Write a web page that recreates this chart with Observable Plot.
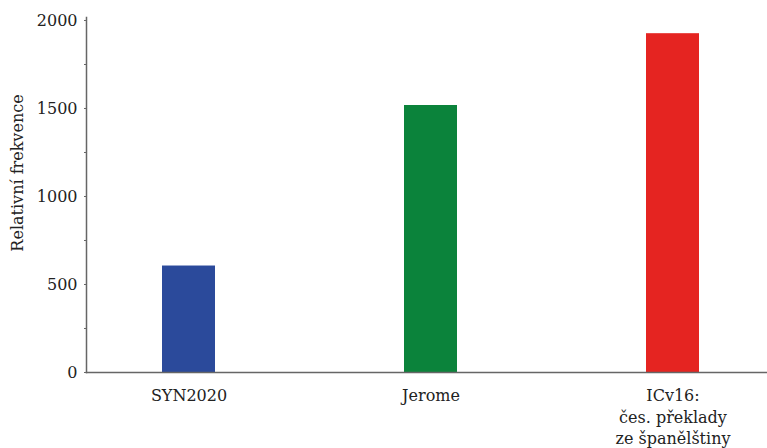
<!DOCTYPE html>
<html>
<head>
<meta charset="utf-8">
<script src="https://cdn.jsdelivr.net/npm/d3@7"></script>
<script src="https://cdn.jsdelivr.net/npm/@observablehq/plot@0.6"></script>
<style>
  html, body { margin: 0; padding: 0; background: #fff; }
</style>
</head>
<body>
<div id="chart"></div>
<script>
const categories = ["SYN2020", "Jerome", "ICv16"];
const tickLabels = ["SYN2020", "Jerome", "ICv16:\nčes. překlady\nze španělštiny"];
const values = [605, 1517, 1925];
const colors = ["#2b4a9b", "#0b833b", "#e52421"];
const yTicks = [0, 500, 1000, 1500, 2000];
const yMinorTicks = [250, 750, 1250, 1750];
const yLabel = "Relativní frekvence";

const data = categories.map((c, i) => ({cat: c, value: values[i], color: colors[i]}));
const labelOf = new Map(categories.map((c, i) => [c, tickLabels[i]]));

const chart = Plot.plot({
  width: 767,
  height: 448,
  marginLeft: 86,
  marginRight: 0,
  marginTop: 17,
  marginBottom: 76,
  style: {fontFamily: "'DejaVu Serif', serif", fontSize: "16px", color: "#222", background: "#fff"},
  x: {domain: categories, range: [86, 775], paddingInner: 0.7814, paddingOuter: 0.311, axis: null},
  y: {domain: [0, 2017], axis: null},
  color: {type: "identity"},
  marks: [
    Plot.barY(data, {x: "cat", y: "value", fill: "color"}),
    Plot.frame({anchor: "left", stroke: "#666", strokeWidth: 1.5}),
    Plot.frame({anchor: "bottom", stroke: "#666", strokeWidth: 1.5}),
    Plot.axisY({ticks: yTicks, tickSize: 2, tickPadding: 7, tickFormat: d => String(d), label: null, stroke: "#666", fill: "#222", fontSize: 16}),
    Plot.axisY({ticks: yMinorTicks, tickSize: 2, tickFormat: () => "", label: null, stroke: "#666"}),
    Plot.axisX({tickSize: 0, tickPadding: 13, tickFormat: d => labelOf.get(d), label: null, lineHeight: 1.36, fill: "#222", fontSize: 16}),
    Plot.text([yLabel], {frameAnchor: "left", textAnchor: "middle", rotate: -90, dx: -69, dy: -22, fill: "#222", fontSize: 16})
  ]
});
document.getElementById("chart").appendChild(chart);
</script>
</body>
</html>
